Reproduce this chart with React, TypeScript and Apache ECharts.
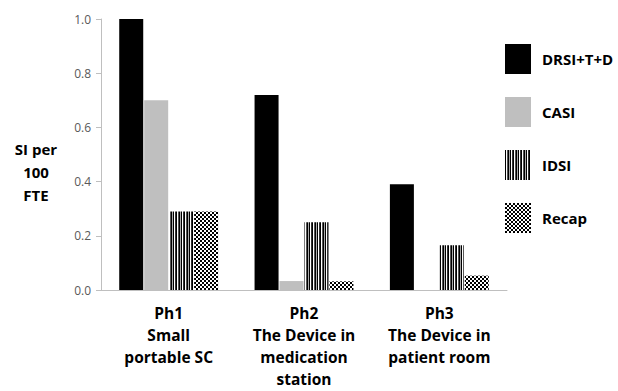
import React, { useEffect, useRef } from "react";
import * as echarts from "echarts";

const categories = ["Ph1\nSmall\nportable SC", "Ph2\nThe Device in\nmedication\nstation", "Ph3\nThe Device in\npatient room"];
const seriesNames = ["DRSI+T+D", "CASI", "IDSI", "Recap"];
const drsi = [1.0, 0.72, 0.39];
const casi = [0.70, 0.033, 0];
const idsi = [0.29, 0.25, 0.165];
const recap = [0.29, 0.032, 0.053];
const yTicks = [0, 0.2, 0.4, 0.6, 0.8, 1.0];

function stripeCanvas() {
  const c = document.createElement("canvas");
  c.width = 8; c.height = 8;
  const g = c.getContext("2d")!;
  g.fillStyle = "#ffffff"; g.fillRect(0, 0, 8, 8);
  const cols = ["#000", "#fff", "#555", "#000", "#aaa", "#000", "#fff", "#333"];
  cols.forEach((col, i) => { g.fillStyle = col; g.fillRect(i, 0, 1, 8); });
  return c;
}
function checkCanvas() {
  const c = document.createElement("canvas");
  c.width = 4; c.height = 4;
  const g = c.getContext("2d")!;
  g.fillStyle = "#ffffff"; g.fillRect(0, 0, 4, 4);
  g.fillStyle = "#000000";
  g.fillRect(0, 0, 2, 2); g.fillRect(2, 2, 2, 2);
  return c;
}

export default function App() {
  const ref = useRef<HTMLDivElement>(null);
  useEffect(() => {
    const chart = echarts.init(ref.current!, null, { renderer: "svg" });
    const stripe = { image: stripeCanvas(), repeat: "repeat" } as any;
    const check = { image: checkCanvas(), repeat: "repeat" } as any;
    const colors: any[] = ["#000000", "#bfbfbf", stripe, check];
    const datas = [drsi, casi, idsi, recap];
    chart.setOption({
      animation: false,
      textStyle: { fontFamily: "Open Sans" },
      grid: { left: 101, right: 111, top: 19, bottom: 101, containLabel: false, outerBoundsMode: "none" },
      legend: {
        orient: "vertical",
        left: 500,
        top: 39,
        itemWidth: 26,
        itemHeight: 30,
        itemGap: 23,
        icon: "rect",
        itemStyle: { borderWidth: 0 },
        textStyle: { fontFamily: "Open Sans", fontWeight: "bold", fontSize: 15, color: "#000", padding: [0, 0, 0, 6] },
        data: seriesNames,
      },
      xAxis: {
        type: "category",
        data: categories,
        axisLine: { lineStyle: { color: "#bfbfbf" } },
        axisTick: { length: 5, lineStyle: { color: "#bfbfbf" } },
        axisLabel: {
          interval: 0,
          fontFamily: "Open Sans",
          fontWeight: "bold",
          fontSize: 15.5,
          lineHeight: 22,
          color: "#000",
          margin: 12,
          verticalAlign: "top",
        },
      },
      yAxis: {
        type: "value",
        min: 0,
        max: 1,
        interval: 0.2,
        splitLine: { show: false },
        axisLine: { show: true, lineStyle: { color: "#bfbfbf" } },
        axisTick: { show: true, length: 5, lineStyle: { color: "#bfbfbf" } },
        axisLabel: {
          fontFamily: "Open Sans",
          fontSize: 12,
          color: "#595959",
          margin: 10,
          formatter: (v: number) => (yTicks.includes(Math.round(v * 10) / 10) ? v.toFixed(1) : ""),
        },
      },
      graphic: [
        {
          type: "text",
          x: 36,
          y: 137,
          style: {
            text: "SI per\n100\nFTE",
            fontFamily: "Open Sans",
            fontWeight: "bold",
            fontSize: 15,
            lineHeight: 23,
            fill: "#000",
            align: "center",
            verticalAlign: "top",
          },
        },
      ],
      series: seriesNames.map((name, i) => ({
        name,
        type: "bar",
        data: datas[i],
        barWidth: 24,
        barGap: "4%",
        itemStyle: { color: colors[i] },
      })),
    });
    return () => chart.dispose();
  }, []);
  return <div ref={ref} style={{ width: 618, height: 391, position: "absolute", left: 0, top: 0 }} />;
}
